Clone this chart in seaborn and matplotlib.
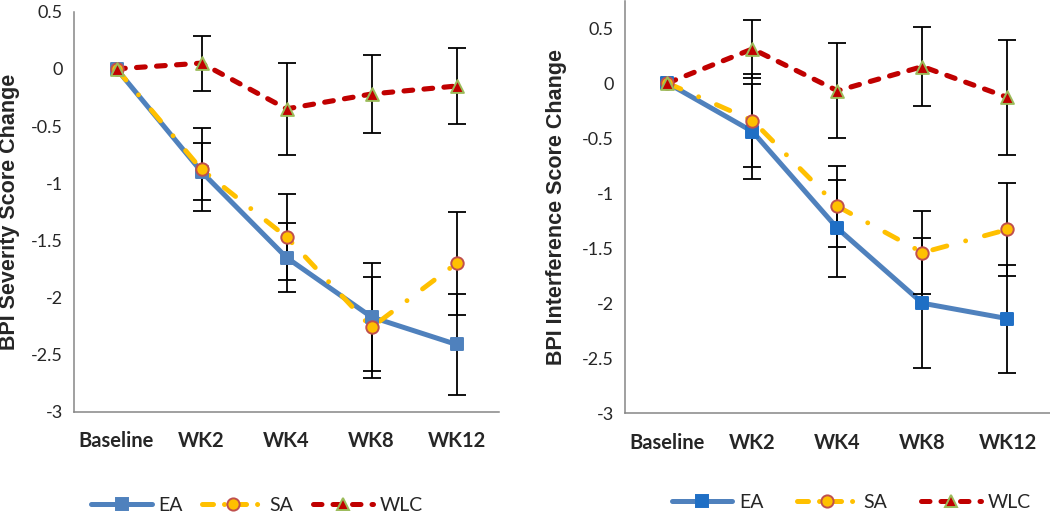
import numpy as np
import pandas as pd
import matplotlib
matplotlib.use('Agg')
import matplotlib.pyplot as plt
import seaborn as sns
from matplotlib.lines import Line2D

# -------------- Data

visits = ['Baseline', 'WK2', 'WK4', 'WK8', 'WK12']
groups = ['EA', 'SA', 'WLC']

# BPI severity (left panel)
sev_ea = [0, -0.90, -1.65, -2.17, -2.41]
sev_ea_err = [0, 0.25, 0.30, 0.47, 0.44]
sev_sa = [0, -0.88, -1.47, -2.26, -1.70]
sev_sa_err = [0, 0.36, 0.38, 0.44, 0.45]
sev_wlc = [0, 0.05, -0.35, -0.22, -0.15]
sev_wlc_err = [0, 0.24, 0.40, 0.34, 0.33]

# BPI interference (right panel)
int_ea = [0, -0.44, -1.32, -2.00, -2.14]
int_ea_err = [0, 0.43, 0.44, 0.59, 0.49]
int_sa = [0, -0.34, -1.12, -1.54, -1.33]
int_sa_err = [0, 0.42, 0.37, 0.38, 0.42]
int_wlc = [0, 0.31, -0.07, 0.15, -0.13]
int_wlc_err = [0, 0.26, 0.43, 0.36, 0.52]

yticks = [0.5, 0, -0.5, -1, -1.5, -2, -2.5, -3]

# -------------- Styles

line_col = {'EA': '#4f81bd', 'SA': '#ffc000', 'WLC': '#c00000'}
line_w = {'EA': 3.6, 'SA': 3.5, 'WLC': 3.7}
marker = {'EA': 's', 'SA': 'o', 'WLC': '^'}
marker_edge = {'EA': '#4f81bd', 'SA': '#c0504d', 'WLC': '#9bbb59'}
marker_size = {'EA': 85, 'SA': 80, 'WLC': 85}
dash = {'EA': '-', 'SA': (0, (3.0, 4.0, 0.01, 4.0)), 'WLC': (0, (1.7, 2.2))}


def build_frame(ea, ea_err, sa, sa_err, wlc, wlc_err):
    rows = []
    for g, vals, errs in [('EA', ea, ea_err), ('SA', sa, sa_err), ('WLC', wlc, wlc_err)]:
        for i, v in enumerate(visits):
            rows.append({'visit': v, 'pos': i, 'group': g, 'change': vals[i], 'err': errs[i]})
    return pd.DataFrame(rows)


def draw_panel(ax, df, ylabel, ylim, ea_face, labelpad):
    for g in groups:
        d = df[df['group'] == g]
        sns.lineplot(data=d, x='pos', y='change', ax=ax, color=line_col[g], legend=False, zorder=2)
        ln = ax.lines[-1]
        ln.set_linewidth(line_w[g])
        ln.set_linestyle(dash[g])
        ln.set_dash_capstyle('round')
        ln.set_solid_capstyle('round')
    # error bars (no bar at baseline)
    for g in groups:
        d = df[(df['group'] == g) & (df['pos'] > 0)]
        ax.errorbar(d['pos'], d['change'], yerr=d['err'], fmt='none', ecolor='black',
                    elinewidth=1.3, capsize=6.5, capthick=1.3, zorder=3)
    for g in groups:
        d = df[df['group'] == g]
        face = ea_face if g == 'EA' else line_col[g]
        sns.scatterplot(data=d, x='pos', y='change', ax=ax, marker=marker[g], s=marker_size[g],
                        color=face, edgecolor=marker_edge[g] if g != 'EA' else ea_face,
                        linewidth=1.4, legend=False, zorder=4)

    ax.set_xlim(-0.5, 4.5)
    ax.set_ylim(*ylim)
    ax.set_xticks(range(len(visits)))
    ax.set_xticklabels(visits, fontsize=14.5, fontweight='bold', family='Lato')
    ax.set_yticks(yticks)
    ax.set_yticklabels([f'{v:g}' for v in yticks], fontsize=13, family='Lato')
    ax.tick_params(axis='x', length=0, pad=14)
    ax.tick_params(axis='y', length=5, width=1, color='#868686', pad=3)
    ax.set_xlabel('')
    ax.set_ylabel(ylabel, fontsize=15.5, fontweight='bold', family='Liberation Sans', labelpad=labelpad)
    for s in ['top', 'right']:
        ax.spines[s].set_visible(False)
    for s in ['left', 'bottom']:
        ax.spines[s].set_color('#868686')
        ax.spines[s].set_linewidth(1.1)
    ax.grid(False)


def legend_handles(ea_face):
    hs = []
    for g in groups:
        face = ea_face if g == 'EA' else line_col[g]
        hs.append(Line2D([], [], color=line_col[g], linewidth=3.6,
                         linestyle=dash[g] if g != 'SA' else (0, (2.2, 2.2, 0.01, 2.2)),
                         marker=marker[g], markersize=8.8, markerfacecolor=face,
                         markeredgecolor=marker_edge[g] if g != 'EA' else ea_face,
                         markeredgewidth=1.4, dash_capstyle='round', solid_capstyle='round'))
    return hs


# -------------- Plot

sns.set_style('white')
plt.rcParams['axes.unicode_minus'] = False
plt.rcParams['font.family'] = ['Lato', 'DejaVu Sans']

fig = plt.figure(figsize=(10.5, 5.16), dpi=100)
ax1 = fig.add_axes([0.0705, 0.2016, 0.4048, 0.7758])
ax2 = fig.add_axes([0.5952, 0.199, 0.4048, 0.800])

sev = build_frame(sev_ea, sev_ea_err, sev_sa, sev_sa_err, sev_wlc, sev_wlc_err)
inter = build_frame(int_ea, int_ea_err, int_sa, int_sa_err, int_wlc, int_wlc_err)

draw_panel(ax1, sev, 'BPI Severity Score Change', (-3, 0.5), '#4f81bd', 8)
draw_panel(ax2, inter, 'BPI Interference Score Change', (-3, 0.75), '#1f6fc5', 11)

leg_kw = dict(ncol=3, frameon=False, handlelength=3.1, handletextpad=0.35,
              fontsize=14, numpoints=1, loc='center', borderaxespad=0, borderpad=0)
fig.legend(handles=legend_handles('#4f81bd'), labels=groups, columnspacing=1.0,
           bbox_to_anchor=(0.245, 0.02), **leg_kw)
fig.legend(handles=legend_handles('#1f6fc5'), labels=groups, columnspacing=1.7,
           bbox_to_anchor=(0.811, 0.026), **leg_kw)

fig.savefig('out.png', dpi=100)
